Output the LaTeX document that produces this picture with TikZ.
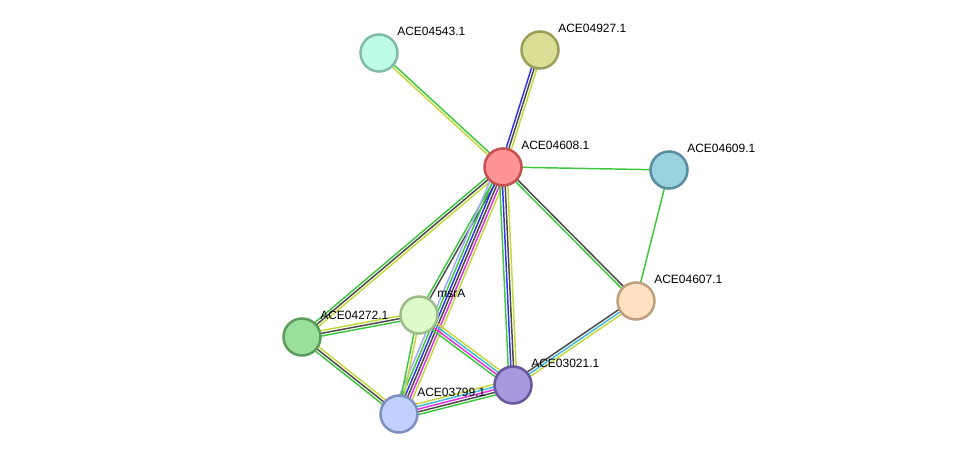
\documentclass[tikz,border=0pt]{standalone}
\usepackage{fontspec}
\setmainfont{Liberation Sans}
\usetikzlibrary{calc,backgrounds}
\definecolor{lnkgreen}{HTML}{3CC83C}
\definecolor{lnkblue}{HTML}{3030F0}
\definecolor{lnkblack}{HTML}{4A4A4A}
\definecolor{lnkyellow}{HTML}{C4D83A}
\definecolor{lnkmagenta}{HTML}{E030E0}
\definecolor{lnkcyan}{HTML}{40B8E0}
\definecolor{lnklavender}{HTML}{A0A8FF}
\definecolor{protred}{HTML}{FF9494}
\definecolor{protredd}{HTML}{C85050}
\definecolor{protmint}{HTML}{BFFCE8}
\definecolor{protmintd}{HTML}{80BCA8}
\definecolor{protolive}{HTML}{DADE96}
\definecolor{protolived}{HTML}{9A9E58}
\definecolor{protteal}{HTML}{9BD2E0}
\definecolor{prottealdd}{HTML}{5A8E9E}
\definecolor{protpeach}{HTML}{FFE0C0}
\definecolor{protpeachd}{HTML}{BEA080}
\definecolor{protlime}{HTML}{DDFDC8}
\definecolor{protlimed}{HTML}{9EBC8A}
\definecolor{protgreen}{HTML}{9ADF9C}
\definecolor{protgreend}{HTML}{5C9C5E}
\definecolor{protpurple}{HTML}{A898DE}
\definecolor{protpurpled}{HTML}{6858A0}
\definecolor{protblue}{HTML}{C0D0FF}
\definecolor{protblued}{HTML}{8090C0}
\tikzset{
  prot/.style 2 args={circle, fill=#1, draw=#2, line width=1.9pt,
               minimum size=27.75pt, inner sep=0pt},
  lbl/.style={font=\fontsize{9}{10}\selectfont, inner sep=0pt, anchor=base west},
  link/.style={line width=1.1pt},
}
% one line per colour, side by side
\newcommand{\stredge}[4]{%
  \foreach \col [count=\i] in {#4} {
    \pgfmathsetmacro{\off}{(\i-(#3+1)/2)*2.0}
    \draw[link, draw=\col] ($(#1)!\off pt!90:(#2)$) -- ($(#2)!\off pt!-90:(#1)$);
  }%
}

\begin{document}
\begin{tikzpicture}[x=0.75pt, y=-0.75pt]
    \useasboundingbox (0,0) rectangle (975,459);
    \node[prot={protred}{protredd}] (n04608) at (503,167) {};
    \node[prot={protmint}{protmintd}] (n04543) at (379,53) {};
    \node[prot={protolive}{protolived}] (n04927) at (540,50) {};
    \node[prot={protteal}{prottealdd}] (n04609) at (669,170) {};
    \node[prot={protpeach}{protpeachd}] (n04607) at (636,301) {};
    \node[prot={protlime}{protlimed}] (nmsrA) at (419,315) {};
    \node[prot={protgreen}{protgreend}] (n04272) at (302,337) {};
    \node[prot={protpurple}{protpurpled}] (n03021) at (513,385) {};
    \node[prot={protblue}{protblued}] (n03799) at (399,414) {};
    \node[lbl] (l04608) at ([shift={(18,-17)}]n04608.center) {ACE04608.1};
    \node[lbl] (l04543) at ([shift={(18,-17)}]n04543.center) {ACE04543.1};
    \node[lbl] (l04927) at ([shift={(18,-17)}]n04927.center) {ACE04927.1};
    \node[lbl] (l04609) at ([shift={(18,-17)}]n04609.center) {ACE04609.1};
    \node[lbl] (l04607) at ([shift={(18,-17)}]n04607.center) {ACE04607.1};
    \node[lbl] (lmsrA) at ([shift={(18,-17)}]nmsrA.center) {msrA};
    \node[lbl] (l04272) at ([shift={(18,-17)}]n04272.center) {ACE04272.1};
    \node[lbl] (l03021) at ([shift={(18,-17)}]n03021.center) {ACE03021.1};
    \node[lbl] (l03799) at ([shift={(18,-17)}]n03799.center) {ACE03799.1};
    \begin{scope}[on background layer]
      \fill[white] (0,0) rectangle (975,459);
      \stredge{n04608}{n04543}{2}{lnkgreen,lnkyellow}
      \stredge{n04608}{n04927}{3}{lnkyellow,lnkblack,lnkblue}
      \stredge{n04608}{n04609}{1}{lnkgreen}
      \stredge{n04608}{n04607}{2}{lnkgreen,lnkblack}
      \stredge{n04608}{n04272}{3}{lnkgreen,lnkblack,lnkyellow}
      \stredge{n04608}{nmsrA}{2}{lnkgreen,lnkblack}
      \stredge{n04608}{n03799}{6}{lnklavender,lnkgreen,lnkblue,lnkblack,lnkmagenta,lnkyellow}
      \stredge{n04608}{n03021}{4}{lnkgreen,lnkblue,lnkblack,lnkyellow}
      \stredge{n04609}{n04607}{1}{lnkgreen}
      \stredge{n04607}{n03021}{3}{lnkblack,lnkcyan,lnkyellow}
      \stredge{nmsrA}{n04272}{3}{lnkyellow,lnkblack,lnkgreen}
      \stredge{n04272}{n03799}{3}{lnkgreen,lnkblack,lnkyellow}
      \stredge{nmsrA}{n03799}{2}{lnkgreen,lnkyellow}
      \stredge{nmsrA}{n03021}{4}{lnkgreen,lnkmagenta,lnkcyan,lnkyellow}
      \stredge{n03799}{n03021}{5}{lnkgreen,lnkblack,lnkmagenta,lnkcyan,lnkyellow}
    \end{scope}
  \end{tikzpicture}
\end{document}
